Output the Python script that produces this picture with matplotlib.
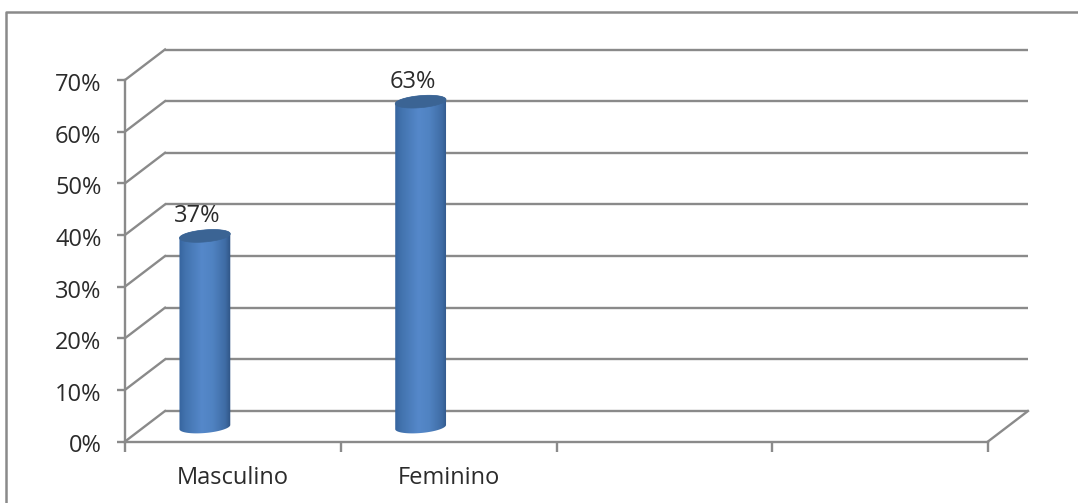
import numpy as np
import matplotlib
matplotlib.use("Agg")
import matplotlib.pyplot as plt
from matplotlib.colors import LinearSegmentedColormap
from matplotlib.lines import Line2D
from matplotlib.patches import Polygon
from matplotlib.transforms import Affine2D, IdentityTransform

categories = ['Masculino', 'Feminino']
values = [37, 63]
y_ticks = [0, 10, 20, 30, 40, 50, 60, 70]
n_slots = 4

W, H = 1078, 503
GREY = '#8a8a8a'
TEXT = '#2b2b2b'
plt.rcParams['font.family'] = ['Open Sans', 'DejaVu Sans']

# fake 3d: floor and walls are the front axis moved by this many pixels
DEPTH_X, DEPTH_Y = 40, 30.5
# the bars stand a bit in front of the slot centre
BAR_DX, BAR_DY = -28, 14.5
BAR_A, BAR_B, BAR_TILT = 25.5, 6.0, np.radians(5)

fig = plt.figure(figsize=(W / 100, H / 100), dpi=100)
ax = fig.add_axes([125 / W, (H - 441.5) / H, (988 - 125) / W, 361.5 / H])
ax.set_xlim(0, n_slots)
ax.set_ylim(0, 70)
ax.patch.set_alpha(0)
ax.set_zorder(2)

for s in ['top', 'right']:
    ax.spines[s].set_visible(False)
for s in ['left', 'bottom']:
    ax.spines[s].set_color(GREY)
    ax.spines[s].set_linewidth(1.7)

ax.set_yticks(y_ticks)
ax.set_yticklabels([f'{v}%' for v in y_ticks], fontsize=17, color=TEXT)
ax.set_xticks(range(n_slots + 1))
ax.set_xticklabels([])
ax.set_xticks([i + 0.5 for i in range(len(categories))], minor=True)
ax.set_xticklabels(categories, minor=True, fontsize=17, color=TEXT)
ax.tick_params(axis='y', length=6, width=1.7, color=GREY, pad=11)
ax.tick_params(axis='x', which='major', length=7.5, width=1.7, color=GREY)
ax.tick_params(axis='x', which='minor', length=0, pad=17.5)

# y labels sit slightly under their ticks
for lab in ax.get_yticklabels():
    lab.set_transform(lab.get_transform() + Affine2D().translate(0, -2))

# back wall lines and the slanted lines on the side wall
back = ax.transData + Affine2D().translate(DEPTH_X, DEPTH_Y)
for v in y_ticks:
    ax.plot([0, n_slots], [v, v], transform=back, color=GREY, lw=1.7,
            clip_on=False, zorder=1, solid_capstyle='butt')
    x0, y0 = ax.transData.transform((0, v))
    ax.plot([x0, x0 + DEPTH_X], [y0, y0 + DEPTH_Y], transform=IdentityTransform(),
            color=GREY, lw=1.7, clip_on=False, zorder=1)
x1, y1 = ax.transData.transform((n_slots, 0))
ax.plot([x1, x1 + DEPTH_X], [y1, y1 + DEPTH_Y], transform=IdentityTransform(),
        color=GREY, lw=1.7, clip_on=False, zorder=1)


def ellipse_pts(cx, cy, t):
    ex = BAR_A * np.cos(t)
    ey = BAR_B * np.sin(t)
    return (cx + ex * np.cos(BAR_TILT) - ey * np.sin(BAR_TILT),
            cy + ex * np.sin(BAR_TILT) + ey * np.cos(BAR_TILT))


body_cmap = LinearSegmentedColormap.from_list('body', [
    (0.0, '#33609a'), (0.15, '#4273ae'), (0.45, '#5588ca'),
    (0.65, '#5083c2'), (0.88, '#3f6ca5'), (1.0, '#2c507f')])
inv = ax.transData.inverted()

for i, val in enumerate(values):
    bx, by = ax.transData.transform((i + 0.5, 0))
    tx, ty = ax.transData.transform((i + 0.5, val))
    bx += BAR_DX
    tx += BAR_DX
    by += BAR_DY
    ty += BAR_DY

    t_low = np.linspace(np.pi, 2 * np.pi, 60)
    t_up = np.linspace(0, np.pi, 60)
    low = np.column_stack(ellipse_pts(bx, by, t_low))
    up = np.column_stack(ellipse_pts(tx, ty, t_up))
    body = Polygon(np.vstack([low, up]), closed=True, transform=IdentityTransform(),
                   fc='none', ec='none')
    ax.add_patch(body)

    # horizontal shading, clipped to the cylinder outline
    (d0, d_lo), (d1, d_hi) = inv.transform([(bx - BAR_A - 2, by - BAR_B - 4),
                                            (bx + BAR_A + 2, ty + BAR_B + 4)])
    grad = np.linspace(0, 1, 128).reshape(1, -1)
    im = ax.imshow(grad, cmap=body_cmap, extent=(d0, d1, d_lo, d_hi), aspect='auto',
                   origin='lower', zorder=3, interpolation='bilinear')
    im.set_clip_path(body)
    im.set_clip_on(True)

    t_all = np.linspace(0, 2 * np.pi, 120)
    lid = Polygon(np.column_stack(ellipse_pts(tx, ty, t_all)), closed=True,
                  transform=IdentityTransform(), fc='#3b6494', ec='#3b6494',
                  lw=0.5, zorder=4, clip_on=False)
    ax.add_patch(lid)

    ax.annotate(f'{val}%', xy=(i + 0.5, val), xycoords='data',
                xytext=((BAR_DX - 8) * 0.72, (BAR_DY + 20) * 0.72), textcoords='offset points',
                ha='center', va='center', fontsize=17, color=TEXT, zorder=5,
                annotation_clip=False)

ax.set_xlim(0, n_slots)
ax.set_ylim(0, 70)

# outer chart border, only the left and top edges are in frame
fig.add_artist(Line2D([6 / W, 6 / W, 1], [0, (H - 12) / H, (H - 12) / H],
                      transform=fig.transFigure, color=GREY, lw=1.8))

fig.savefig('out.png', dpi=100, facecolor='white')
